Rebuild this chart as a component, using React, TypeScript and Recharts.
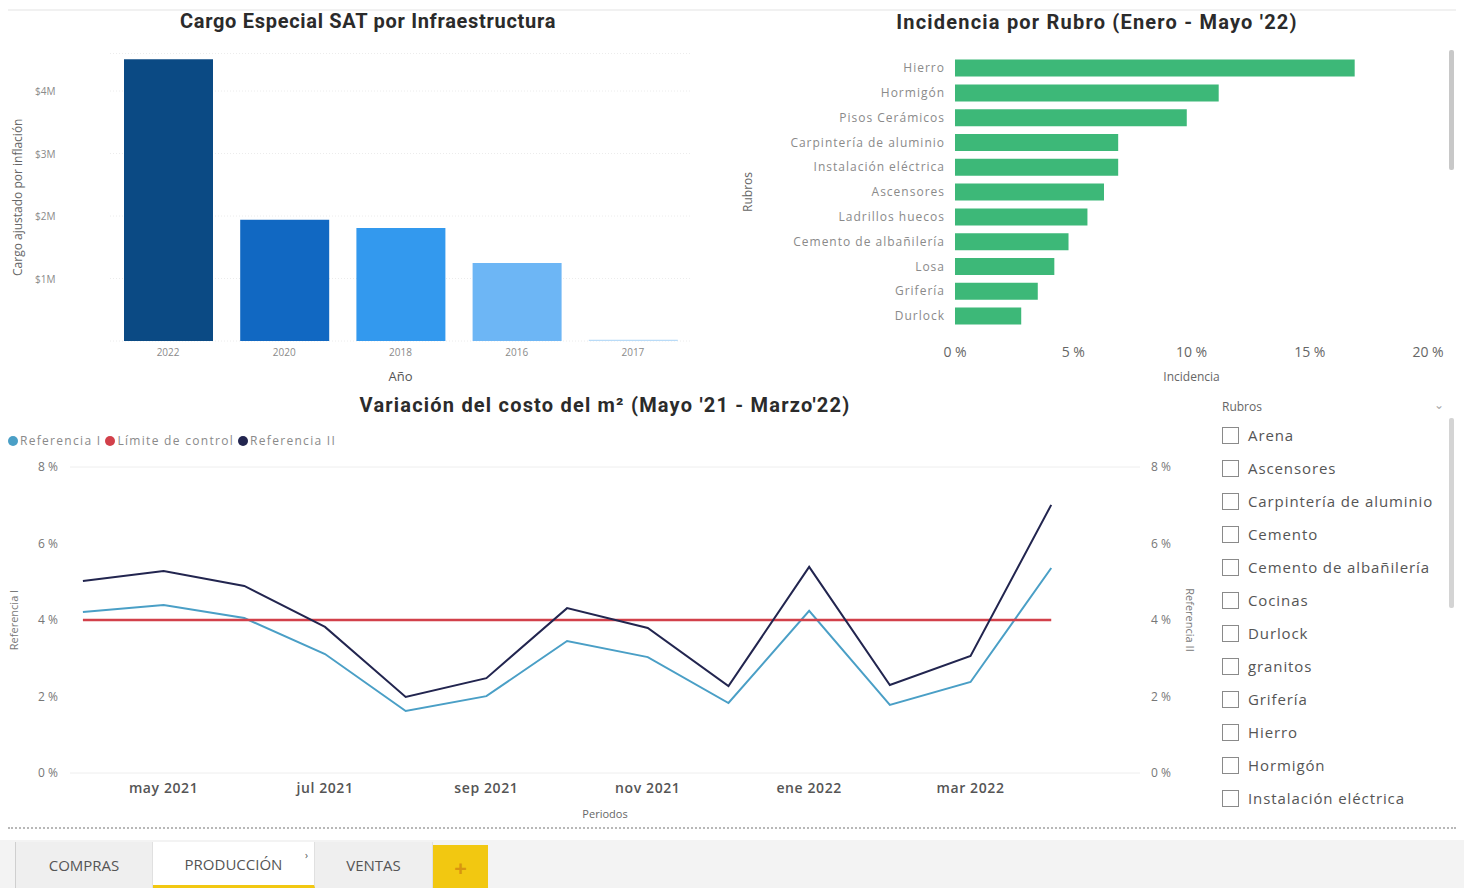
import React from 'react';
import {
  BarChart,
  Bar,
  Cell,
  LineChart,
  Line,
  XAxis,
  YAxis,
  CartesianGrid,
  Legend,
} from 'recharts';

// Cargo Especial SAT por Infraestructura
const anios = ['2022', '2020', '2018', '2016', '2017'];
const cargoAjustado = [4.51, 1.94, 1.81, 1.25, 0.02];
const cargoColores = ['#0b4a84', '#1168c2', '#3399ee', '#6db6f5', '#b9dbf7'];
const cargoTicks = [1, 2, 3, 4];

// Incidencia por Rubro
const rubros = [
  'Hierro',
  'Hormigón',
  'Pisos Cerámicos',
  'Carpintería de aluminio',
  'Instalación eléctrica',
  'Ascensores',
  'Ladrillos huecos',
  'Cemento de albañilería',
  'Losa',
  'Grifería',
  'Durlock',
];
const incidencia = [16.9, 11.15, 9.8, 6.9, 6.9, 6.3, 5.6, 4.8, 4.2, 3.5, 2.8];
const incidenciaTicks = [0, 5, 10, 15, 20];

// Variación del costo del m²
const periodos = [
  'abr 2021', 'may 2021', 'jun 2021', 'jul 2021', 'ago 2021', 'sep 2021', 'oct 2021',
  'nov 2021', 'dic 2021', 'ene 2022', 'feb 2022', 'mar 2022', 'abr 2022',
];
const referenciaI = [4.21, 4.39, 4.05, 3.11, 1.62, 2.01, 3.45, 3.03, 1.83, 4.24, 1.78, 2.38, 5.36];
const referenciaII = [5.02, 5.28, 4.89, 3.82, 1.99, 2.48, 4.31, 3.79, 2.27, 5.39, 2.3, 3.06, 7.01];
const limiteControl = [4, 4, 4, 4, 4, 4, 4, 4, 4, 4, 4, 4, 4];
const periodoTicks = [1, 3, 5, 7, 9, 11];
const pctTicks = [0, 2, 4, 6, 8];

const serieNombres = ['Referencia I', 'Límite de control', 'Referencia II'];
const serieColores = ['#4a9fc6', '#d2404a', '#22254f'];

// slicer
const rubrosFiltro = [
  'Arena',
  'Ascensores',
  'Carpintería de aluminio',
  'Cemento',
  'Cemento de albañilería',
  'Cocinas',
  'Durlock',
  'granitos',
  'Grifería',
  'Hierro',
  'Hormigón',
  'Instalación eléctrica',
];

const tabs = ['COMPRAS', 'PRODUCCIÓN', 'VENTAS'];

const cargoData = anios.map((a, i) => ({ anio: a, cargo: cargoAjustado[i] }));
const incidenciaData = rubros.map((r, i) => ({ rubro: r, valor: incidencia[i] }));
const variacionData = periodos.map((p, i) => ({
  idx: i,
  periodo: p,
  refI: referenciaI[i],
  limite: limiteControl[i],
  refII: referenciaII[i],
}));

const FONT = "'Open Sans', 'DejaVu Sans', sans-serif";
const TITLE_FONT = "Roboto, 'Open Sans', sans-serif";

const titleStyle: React.CSSProperties = {
  position: 'absolute',
  fontFamily: TITLE_FONT,
  fontWeight: 700,
  fontSize: 20,
  color: '#2b2b2b',
  whiteSpace: 'nowrap',
  transform: 'translate(-50%, -50%)',
};

const CargoTick = (props: any) => {
  const { y, payload } = props;
  return (
    <text x={35} y={y} dy={4} fontSize={10} fill="#8a8a8a" fontFamily={FONT}>
      {`$${payload.value}M`}
    </text>
  );
};

const LeyendaVariacion = () => (
  <div style={{ display: 'flex', fontSize: 12, color: '#8a8a8a', fontFamily: FONT, letterSpacing: 1.3 }}>
    {serieNombres.map((n, i) => (
      <div key={n} style={{ display: 'flex', alignItems: 'center', marginRight: 4 }}>
        <span
          style={{
            display: 'inline-block',
            width: 10,
            height: 10,
            borderRadius: '50%',
            background: serieColores[i],
            marginRight: 2,
          }}
        />
        {n}
      </div>
    ))}
  </div>
);

export default function App() {
  return (
    <div
      style={{
        position: 'absolute',
        left: 0,
        top: 0,
        width: 1464,
        height: 888,
        background: '#ffffff',
        overflow: 'hidden',
        fontFamily: FONT,
      }}
    >
      <div style={{ position: 'absolute', left: 8, top: 9, width: 1448, height: 2, background: '#f1f1f1' }} />

      {/* top-left */}
      <div style={{ ...titleStyle, left: 368, top: 21, letterSpacing: 0.7 }}>Cargo Especial SAT por Infraestructura</div>
      <div style={{ position: 'absolute', left: 0, top: 40 }}>
        <BarChart
          width={700}
          height={350}
          data={cargoData}
          margin={{ top: 13.5, right: 9, left: 0, bottom: 0 }}
        >
          <CartesianGrid vertical={false} stroke="#ececec" strokeDasharray="1 2" />
          <XAxis
            dataKey="anio"
            height={49}
            tickLine={false}
            axisLine={false}
            tickSize={0}
            tickMargin={8}
            tick={{ fontSize: 10, fill: '#8a8a8a', fontFamily: FONT }}
            label={{ value: 'Año', position: 'insideBottom', offset: 9, fontSize: 13, fill: '#555', fontFamily: FONT }}
          />
          <YAxis
            width={110}
            domain={[0, 4.6]}
            ticks={cargoTicks}
            tickLine={false}
            axisLine={false}
            tick={<CargoTick />}
            label={{
              value: 'Cargo ajustado por inflación',
              angle: -90,
              position: 'insideLeft',
              offset: 18,
              style: { textAnchor: 'middle' },
              fontSize: 12,
              fill: '#666',
              fontFamily: FONT,
            }}
          />
          <Bar dataKey="cargo" barSize={89} isAnimationActive={false}>
            {cargoData.map((d, i) => (
              <Cell key={d.anio} fill={cargoColores[i]} />
            ))}
          </Bar>
        </BarChart>
      </div>

      {/* top-right */}
      <div style={{ ...titleStyle, left: 1097, top: 22, letterSpacing: 1.2 }}>Incidencia por Rubro (Enero - Mayo '22)</div>
      <div style={{ position: 'absolute', left: 740, top: 40 }}>
        <BarChart
          width={720}
          height={350}
          data={incidenciaData}
          layout="vertical"
          margin={{ top: 15.6, right: 32, left: 0, bottom: 0 }}
        >
          <XAxis
            type="number"
            domain={[0, 20]}
            ticks={incidenciaTicks}
            height={61.6}
            tickLine={false}
            axisLine={false}
            tickSize={0}
            tickMargin={19}
            tickFormatter={(v) => `${v} %`}
            tick={{ fontSize: 14, fill: '#666', fontFamily: FONT }}
            label={{ value: 'Incidencia', position: 'insideBottom', offset: 9, fontSize: 12, fill: '#666', fontFamily: FONT }}
          />
          <YAxis
            type="category"
            dataKey="rubro"
            width={215}
            tickLine={false}
            axisLine={false}
            tickSize={0}
            tickMargin={10}
            interval={0}
            tick={{ fontSize: 12, fill: '#8a8a8a', fontFamily: FONT, letterSpacing: 1 }}
            label={{
              value: 'Rubros',
              angle: -90,
              position: 'insideLeft',
              offset: 8,
              style: { textAnchor: 'middle' },
              fontSize: 12,
              fill: '#666',
              fontFamily: FONT,
            }}
          />
          <Bar dataKey="valor" fill="#3db878" barSize={17} isAnimationActive={false} />
        </BarChart>
      </div>
      <div style={{ position: 'absolute', left: 1449, top: 50, width: 5, height: 120, background: '#c8c8c8', borderRadius: 2 }} />

      {/* bottom-left */}
      <div style={{ ...titleStyle, left: 605, top: 405, letterSpacing: 1.2 }}>Variación del costo del m² (Mayo '21 - Marzo'22)</div>
      <div style={{ position: 'absolute', left: 0, top: 425 }}>
        <LineChart
          width={1200}
          height={400}
          data={variacionData}
          margin={{ top: 27, right: 0, left: 0, bottom: 0 }}
        >
          <CartesianGrid vertical={false} stroke="#eeeeee" />
          <Legend
            verticalAlign="top"
            align="left"
            height={15}
            content={<LeyendaVariacion />}
            wrapperStyle={{ top: 7, left: 8, width: 'auto' }}
          />
          <XAxis
            dataKey="idx"
            type="number"
            domain={[-0.16, 13.1]}
            ticks={periodoTicks}
            height={52}
            tickLine={false}
            axisLine={false}
            tickSize={0}
            tickMargin={10}
            tickFormatter={(v) => periodos[v]}
            tick={{ fontSize: 14, fill: '#555', fontFamily: FONT, fontWeight: 600, letterSpacing: 0.6 }}
            label={{ value: 'Periodos', position: 'insideBottom', offset: 7, fontSize: 11, fill: '#666', fontFamily: FONT }}
          />
          <YAxis
            yAxisId="left"
            width={70}
            domain={[0, 8]}
            ticks={pctTicks}
            tickLine={false}
            axisLine={false}
            tickSize={0}
            tickMargin={12}
            tickFormatter={(v) => `${v} %`}
            tick={{ fontSize: 12, fill: '#777', fontFamily: FONT }}
            label={{
              value: 'Referencia I',
              angle: -90,
              position: 'insideLeft',
              offset: 14,
              style: { textAnchor: 'middle' },
              fontSize: 11,
              fill: '#777',
              fontFamily: FONT,
            }}
          />
          <YAxis
            yAxisId="right"
            orientation="right"
            width={60}
            domain={[0, 8]}
            ticks={pctTicks}
            tickLine={false}
            axisLine={false}
            tickSize={0}
            tickMargin={11}
            tickFormatter={(v) => `${v} %`}
            tick={{ fontSize: 12, fill: '#777', fontFamily: FONT }}
            label={{
              value: 'Referencia II',
              angle: 90,
              position: 'insideRight',
              offset: 10,
              style: { textAnchor: 'middle' },
              fontSize: 11,
              fill: '#777',
              fontFamily: FONT,
            }}
          />
          <Line
            yAxisId="left"
            dataKey="refI"
            name={serieNombres[0]}
            stroke={serieColores[0]}
            strokeWidth={2}
            dot={false}
            isAnimationActive={false}
          />
          <Line
            yAxisId="left"
            dataKey="limite"
            name={serieNombres[1]}
            stroke={serieColores[1]}
            strokeWidth={2.5}
            dot={false}
            isAnimationActive={false}
          />
          <Line
            yAxisId="right"
            dataKey="refII"
            name={serieNombres[2]}
            stroke={serieColores[2]}
            strokeWidth={2}
            dot={false}
            isAnimationActive={false}
          />
        </LineChart>
      </div>

      {/* slicer */}
      <div style={{ position: 'absolute', left: 1222, top: 398, fontSize: 12, color: '#666' }}>Rubros</div>
      <div style={{ position: 'absolute', left: 1434, top: 396, fontSize: 12, color: '#aaa' }}>⌄</div>
      <div style={{ position: 'absolute', left: 1449, top: 418, width: 5, height: 190, background: '#d4d4d4', borderRadius: 2 }} />
      {rubrosFiltro.map((r, i) => (
        <div
          key={r}
          style={{
            position: 'absolute',
            left: 1222,
            top: 425 + i * 33,
            height: 20,
            display: 'flex',
            alignItems: 'center',
            whiteSpace: 'nowrap',
          }}
        >
          <div style={{ width: 17, height: 17, border: '1px solid #8a8a8a', boxSizing: 'border-box', marginRight: 9 }} />
          <span style={{ fontSize: 15, color: '#555', letterSpacing: 0.9 }}>{r}</span>
        </div>
      ))}

      {/* page tabs */}
      <div style={{ position: 'absolute', left: 8, top: 827, width: 1448, height: 0, borderTop: '2px dotted #b8b8b8' }} />
      <div style={{ position: 'absolute', left: 0, top: 840, width: 1464, height: 48, background: '#f3f3f3' }} />
      {tabs.map((t, i) => {
        const lefts = [15, 153, 315];
        const widths = [138, 162, 118];
        const active = i === 1;
        return (
          <div
            key={t}
            style={{
              position: 'absolute',
              left: lefts[i],
              top: 842,
              width: widths[i],
              height: 46,
              boxSizing: 'border-box',
              background: active ? '#ffffff' : '#efefef',
              borderLeft: i === 0 ? '1px solid #cfcfcf' : 'none',
              borderRight: '1px solid #e0e0e0',
              borderBottom: active ? '3px solid #f2c811' : 'none',
              display: 'flex',
              alignItems: 'center',
              justifyContent: 'center',
              fontSize: 15,
              color: '#555',
            }}
          >
            {t}
            {active && <span style={{ position: 'absolute', right: 6, top: 6, fontSize: 10 }}>›</span>}
          </div>
        );
      })}
      <div
        style={{
          position: 'absolute',
          left: 433,
          top: 845,
          width: 55,
          height: 43,
          background: '#f2c811',
          display: 'flex',
          alignItems: 'center',
          justifyContent: 'center',
          fontSize: 22,
          fontWeight: 700,
          color: '#d9950f',
        }}
      >
        +
      </div>
    </div>
  );
}
